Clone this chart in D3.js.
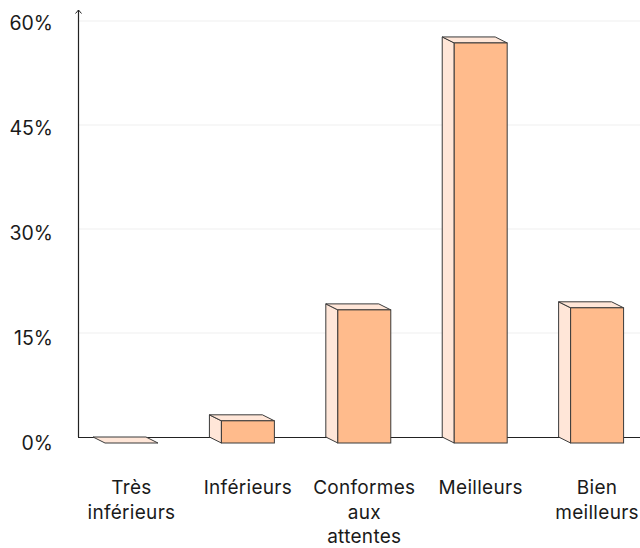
<!DOCTYPE html>
<html>
<head>
<meta charset="utf-8">
<script src="https://cdn.jsdelivr.net/npm/d3@7"></script>
<style>
  html, body { margin: 0; padding: 0; background: #fff; }
  svg text { font-family: Inter, "Liberation Sans", sans-serif; fill: #1a1a1a; }
</style>
</head>
<body>
<svg id="chart" width="640" height="548"></svg>
<script>
// Response shares (%) per category
const categories = ["Très inférieurs", "Inférieurs", "Conformes aux attentes", "Meilleurs", "Bien meilleurs"];
const labelLines = [["Très", "inférieurs"], ["Inférieurs"], ["Conformes", "aux", "attentes"], ["Meilleurs"], ["Bien", "meilleurs"]];
const shares = [0, 3.2, 19.2, 57.7, 19.5];
const tickValues = [0, 15, 30, 45, 60];

const svg = d3.select("#chart");
const axisX = 78, baseY = 437, topY = 21;
const depthX = 12, depthY = 6;

const y = d3.scaleLinear().domain([0, 60]).range([baseY, topY]);
// tick labels sit on a slightly more spread-out scale than the gridlines
const yLabel = d3.scaleLinear().domain([0, 60]).range([baseY + 5, topY + 1]);
const x = d3.scaleBand()
  .domain(categories)
  .range([axisX, 626.6])
  .paddingInner(0.545)
  .paddingOuter(0.129);

// horizontal gridlines
svg.append("g").selectAll("line")
  .data(tickValues.filter(d => d > 0))
  .join("line")
  .attr("x1", axisX).attr("x2", 640)
  .attr("y1", d => y(d)).attr("y2", d => y(d))
  .attr("stroke", "#efefef").attr("stroke-width", 1);

// y tick labels
const yAxis = d3.axisLeft(yLabel).tickValues(tickValues).tickFormat(d => d + "%").tickSize(0).tickPadding(0);
const gy = svg.append("g").attr("transform", `translate(53,0)`).call(yAxis);
gy.select(".domain").remove();
gy.selectAll("text")
  .attr("font-size", 19.5)
  .attr("dy", "0.36em")
  .style("font-family", "Inter, 'Liberation Sans', sans-serif")
  .attr("fill", "#1a1a1a");

// baseline
svg.append("line")
  .attr("x1", axisX).attr("x2", 640)
  .attr("y1", baseY + 0.5).attr("y2", baseY + 0.5)
  .attr("stroke", "#222").attr("stroke-width", 1.2);

// vertical axis with arrow head
svg.append("line")
  .attr("x1", axisX + 0.5).attr("x2", axisX + 0.5)
  .attr("y1", baseY).attr("y2", 10)
  .attr("stroke", "#222").attr("stroke-width", 1.2);
svg.append("path")
  .attr("d", `M${axisX - 2.5},13.5 L${axisX + 0.5},10 L${axisX + 3.5},13.5`)
  .attr("fill", "none").attr("stroke", "#222").attr("stroke-width", 1);

// 3D bars
const bars = svg.append("g").selectAll("g")
  .data(categories.map((c, i) => ({ c, v: shares[i] })))
  .join("g");

const w = x.bandwidth();
const stroke = "#3a3a3a";

bars.each(function (d) {
  const g = d3.select(this);
  const x0 = x(d.c);
  const yt = y(d.v);
  // left side face
  if (d.v > 0) {
    g.append("path")
      .attr("d", `M${x0},${yt} L${x0 + depthX},${yt + depthY} L${x0 + depthX},${baseY + depthY} L${x0},${baseY} Z`)
      .attr("fill", "#ffe6d8").attr("stroke", stroke).attr("stroke-width", 1).attr("stroke-linejoin", "round");
  }
  // top face
  g.append("path")
    .attr("d", `M${x0},${yt} L${x0 + w},${yt} L${x0 + w + depthX},${yt + depthY} L${x0 + depthX},${yt + depthY} Z`)
    .attr("fill", "#ffe6d8").attr("stroke", stroke).attr("stroke-width", 1).attr("stroke-linejoin", "round");
  // front face
  if (d.v > 0) {
    g.append("rect")
      .attr("x", x0 + depthX).attr("y", yt + depthY)
      .attr("width", w).attr("height", baseY - yt)
      .attr("fill", "#ffbb8c").attr("stroke", stroke).attr("stroke-width", 1);
  }
});

// category labels
const labels = svg.append("g").selectAll("text")
  .data(categories)
  .join("text")
  .attr("x", d => x(d) + depthX + w / 2)
  .attr("y", 494)
  .attr("text-anchor", "middle")
  .attr("font-size", 19)
  .attr("letter-spacing", 0.3);
labels.each(function (d, i) {
  d3.select(this).selectAll("tspan")
    .data(labelLines[i])
    .join("tspan")
    .attr("x", x(d) + depthX + w / 2)
    .attr("dy", (t, j) => j === 0 ? 0 : 24.5)
    .text(t => t);
});
</script>
</body>
</html>
